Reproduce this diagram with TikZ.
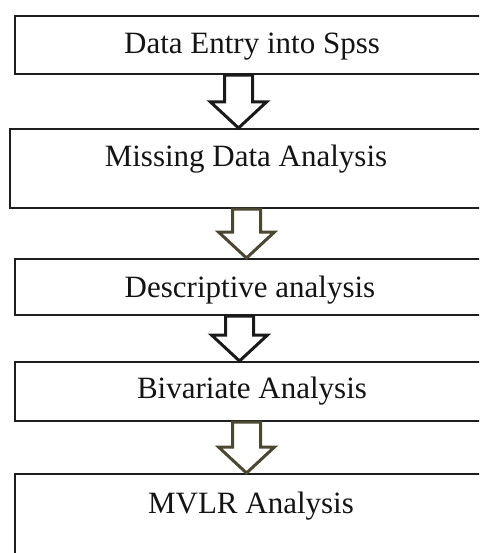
\documentclass[tikz,border=0pt]{standalone}
\usepackage{fontspec}
\setmainfont{Liberation Serif}
\usetikzlibrary{calc}
\definecolor{boxcol}{HTML}{1E1E1E}
\definecolor{blackarrow}{HTML}{1A1A1A}
\definecolor{olivearrow}{HTML}{4A4830}
\tikzset{
  box/.style={draw=boxcol, line width=2.2pt, rectangle, anchor=north west, inner sep=0pt},
  lbl/.style={anchor=base, inner sep=0pt, font=\fontsize{31}{36}\selectfont, text=black!92},
  harrow/.style={line width=3pt, fill=white, line join=miter},
}
\newcommand\hollowarrow[4]{%
  \draw[harrow, draw=#4] let \p1=(#1.south -| #3), \p2=(#2.north -| #3) in
    (\x1-14pt,\y1) -- (\x1-14pt,\y2+26pt) -- (\x1-28pt,\y2+26pt) -- (\x1,\y2)
    -- (\x1+28pt,\y2+26pt) -- (\x1+14pt,\y2+26pt) -- (\x1+14pt,\y1) -- cycle;
}
\begin{document}
\begin{tikzpicture}[x=1pt,y=-1pt]
  \useasboundingbox (0,0) rectangle (479,553);
  \fill[white] (0,0) rectangle (479,553);
  \clip (0,0) rectangle (479,553);

  \node[box, minimum width=478pt, minimum height=58pt] (b1) at (14,15) {};
  \node[box, minimum width=475pt, minimum height=79pt] (b2) at (9,128) {};
  \node[box, minimum width=472pt, minimum height=56pt] (b3) at (14,258) {};
  \node[box, minimum width=476pt, minimum height=59pt] (b4) at (14,361) {};
  \node[box, minimum width=474pt, minimum height=120pt] (b5) at (14,473) {};

  \node[lbl] (t1) at (252,54) {Data Entry into Spss};
  \node[lbl] (t2) at (246,167) {Missing Data Analysis};
  \node[lbl] (t3) at (250,297) {Descriptive analysis};
  \node[lbl] (t4) at (252,398) {Bivariate Analysis};
  \node[lbl] (t5) at (251,513) {MVLR Analysis};

  \coordinate (c1) at (238.5,0);
  \coordinate (c2) at (246.5,0);
  \coordinate (c3) at (239.5,0);
  \coordinate (c4) at (246.5,0);

  \hollowarrow{b1}{b2}{c1}{blackarrow}
  \hollowarrow{b2}{b3}{c2}{olivearrow}
  \hollowarrow{b3}{b4}{c3}{blackarrow}
  \hollowarrow{b4}{b5}{c4}{olivearrow}
\end{tikzpicture}
\end{document}
